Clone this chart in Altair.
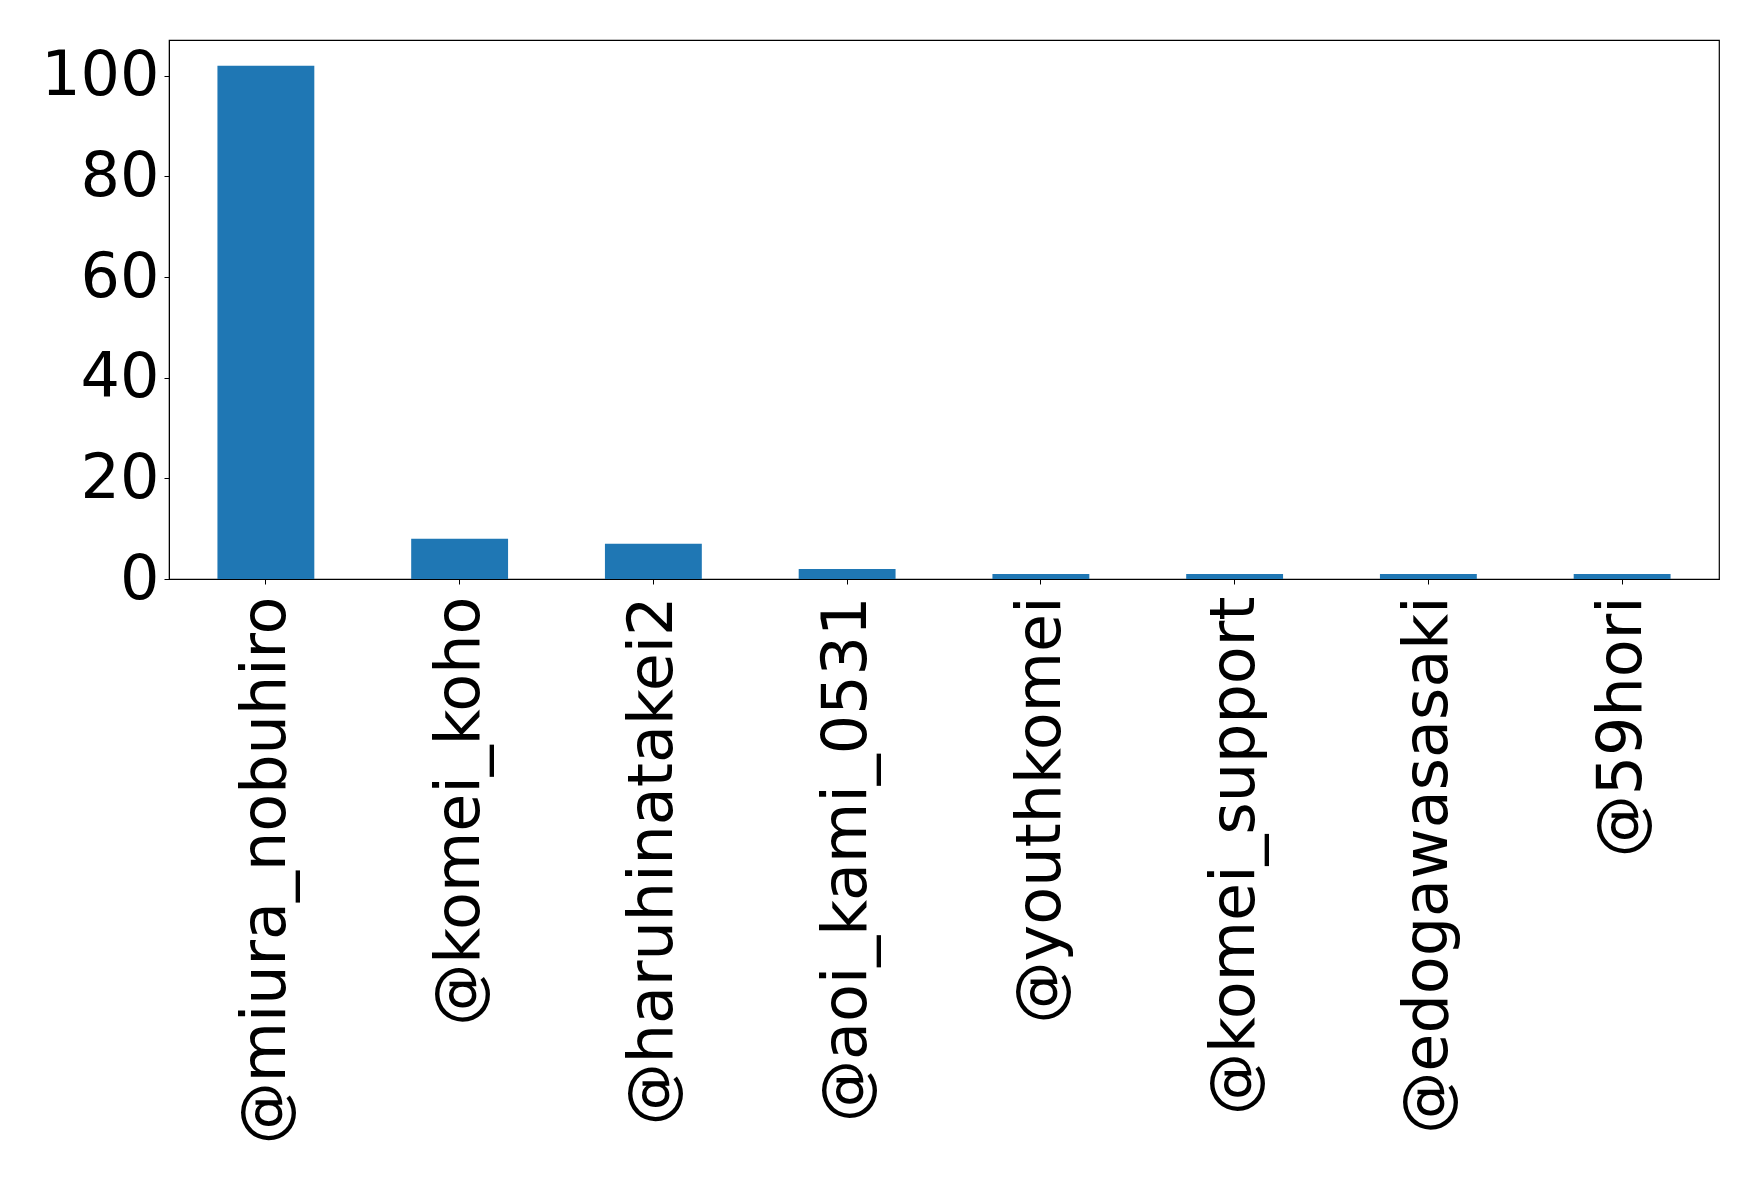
import altair as alt
import pandas as pd

# Mention counts per account
accounts = [
    "@miura_nobuhiro",
    "@komei_koho",
    "@haruhinatakei2",
    "@aoi_kami_0531",
    "@youthkomei",
    "@komei_support",
    "@edogawasasaki",
    "@59hori",
]
counts = [102, 8, 7, 2, 1, 1, 1, 1]

df = pd.DataFrame({"account": accounts, "count": counts})

bars = alt.Chart(df).mark_bar(color="#1f77b4").encode(
    x=alt.X(
        "account:N",
        sort=accounts,
        title=None,
        scale=alt.Scale(paddingInner=0.5, paddingOuter=0.25),
        axis=alt.Axis(
            labelAngle=270,
            labelAlign="right",
            labelBaseline="middle",
            labelFont="DejaVu Sans",
            labelFontSize=62,
            labelColor="black",
            labelPadding=12,
            tickSize=5,
            tickColor="black",
            domainColor="black",
            labelOverlap=False,
            labelLimit=0,
        ),
    ),
    y=alt.Y(
        "count:Q",
        title=None,
        scale=alt.Scale(domain=[0, 107.1], nice=False, zero=True),
        axis=alt.Axis(
            values=[0, 20, 40, 60, 80, 100],
            labelFont="DejaVu Sans",
            labelFontSize=62,
            labelColor="black",
            labelPadding=5,
            tickSize=5,
            tickColor="black",
            domainColor="black",
            grid=False,
            labelOverlap=False,
        ),
    ),
)

chart = bars.properties(
    width=1550,
    height=539,
    background="white",
    autosize=alt.AutoSizeParams(type="none"),
    padding={"left": 169, "top": 40, "right": 39, "bottom": 601},
).configure_view(
    stroke="black",
    strokeWidth=1.2,
)

chart.save("out.html", embed_options={"renderer": "svg", "actions": False})
